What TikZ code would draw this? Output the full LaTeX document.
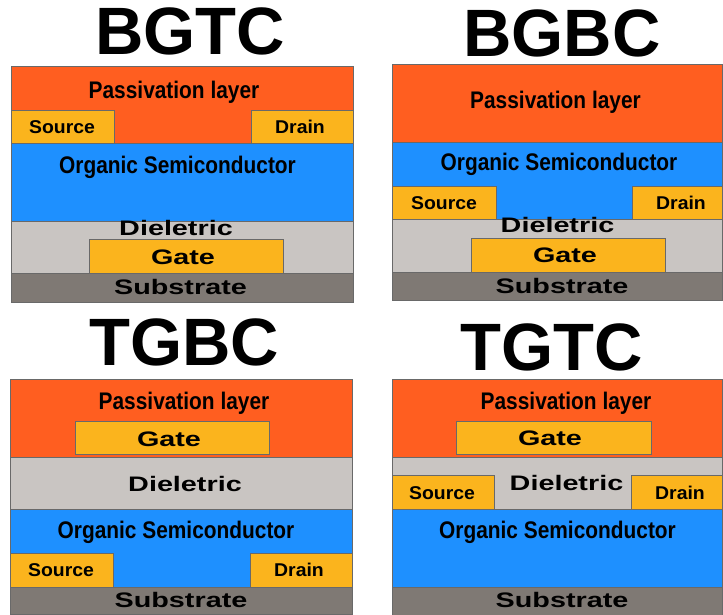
\documentclass[tikz,border=0pt]{standalone}
\usepackage{fontspec}
\setmainfont{Liberation Sans}
\definecolor{pass}{RGB}{255,94,32}
\definecolor{gold}{RGB}{251,180,29}
\definecolor{osc}{RGB}{30,144,255}
\definecolor{diel}{RGB}{201,197,194}
\definecolor{subs}{RGB}{127,121,116}
\definecolor{edge}{RGB}{105,105,105}
\tikzset{
  layer/.style={draw=edge, line width=0.8pt},
  ttl/.style={anchor=base, font=\fontsize{67}{67}\selectfont\bfseries, inner sep=0pt},
  narrowlbl/.style={anchor=base, font=\fontsize{24}{24}\selectfont\bfseries, xscale=0.87, inner sep=0pt},
  widelbl/.style={anchor=base, font=\fontsize{21}{21}\selectfont\bfseries, xscale=1.37, inner sep=0pt},
  sdlbl/.style={anchor=base, font=\fontsize{18.5}{18.5}\selectfont\bfseries, xscale=1.05, inner sep=0pt}
}
\begin{document}
\begin{tikzpicture}[x=1pt,y=-1pt]
\useasboundingbox (0,0) rectangle (723,615);
% ---------- BGTC ----------
\node[ttl] (t1) at (190,55) {BGTC};
\fill[pass] (11,66) rectangle (353,143);
\fill[osc] (11,143) rectangle (353,221);
\fill[diel] (11,221) rectangle (353,273);
\fill[subs] (11,273) rectangle (353,302);
\draw[layer] (11,66) rectangle (353,302);
\draw[layer] (11,143) -- (353,143) (11,221) -- (353,221) (11,273) -- (353,273);
\draw[layer, fill=gold] (11,110) rectangle (114,143);
\draw[layer, fill=gold] (251,110) rectangle (353,143);
\draw[layer, fill=gold] (89,239) rectangle (283,273);
\node[narrowlbl] (p1) at (174,99) {Passivation layer};
\node[sdlbl] (s1) at (62,134) {Source};
\node[sdlbl] (d1) at (300,134) {Drain};
\node[narrowlbl] (o1) at (177.5,174) {Organic Semiconductor};
\node[widelbl] (e1) at (176,235) {Dieletric};
\node[widelbl] (g1) at (183,264) {Gate};
\node[widelbl] (b1) at (180.5,294) {Substrate};
% ---------- BGBC ----------
\node[ttl] (t2) at (562,57) {BGBC};
\fill[pass] (392,64) rectangle (722,142);
\fill[osc] (392,142) rectangle (722,219);
\fill[diel] (392,219) rectangle (722,272);
\fill[subs] (392,272) rectangle (722,300);
\draw[layer] (392,64) rectangle (722,300);
\draw[layer] (392,142) -- (722,142) (392,219) -- (722,219) (392,272) -- (722,272);
\draw[layer, fill=gold] (392,186) rectangle (496,219);
\draw[layer, fill=gold] (632,186) rectangle (722,219);
\draw[layer, fill=gold] (471,238) rectangle (665,272);
\node[narrowlbl] (p2) at (555.5,109) {Passivation layer};
\node[narrowlbl] (o2) at (559,171) {Organic Semiconductor};
\node[sdlbl] (s2) at (444,209) {Source};
\node[sdlbl] (d2) at (681,209) {Drain};
\node[widelbl] (e2) at (557.5,232) {Dieletric};
\node[widelbl] (g2) at (565,262) {Gate};
\node[widelbl] (b2) at (562,293) {Substrate};
% ---------- TGBC ----------
\node[ttl] (t3) at (184,365) {TGBC};
\fill[pass] (10,379) rectangle (352,457);
\fill[diel] (10,457) rectangle (352,509);
\fill[osc] (10,509) rectangle (352,587);
\fill[subs] (10,587) rectangle (352,614);
\draw[layer] (10,379) rectangle (352,614);
\draw[layer] (10,457) -- (352,457) (10,509) -- (352,509) (10,587) -- (352,587);
\draw[layer, fill=gold] (75,421) rectangle (269,454);
\draw[layer, fill=gold] (10,553) rectangle (113,587);
\draw[layer, fill=gold] (250,553) rectangle (352,587);
\node[narrowlbl] (p3) at (184,409) {Passivation layer};
\node[widelbl] (g3) at (169,446) {Gate};
\node[widelbl] (e3) at (185,491) {Dieletric};
\node[narrowlbl] (o3) at (176,538) {Organic Semiconductor};
\node[sdlbl] (s3) at (61,576) {Source};
\node[sdlbl] (d3) at (299,576) {Drain};
\node[widelbl] (b3) at (181,607) {Substrate};
% ---------- TGTC ----------
\node[ttl] (t4) at (552,370) {TGTC};
\fill[pass] (392,379) rectangle (722,457);
\fill[diel] (392,457) rectangle (722,509);
\fill[osc] (392,509) rectangle (722,587);
\fill[subs] (392,587) rectangle (722,615);
\draw[layer] (392,379) rectangle (722,615);
\draw[layer] (392,457) -- (722,457) (392,509) -- (722,509) (392,587) -- (722,587);
\draw[layer, fill=gold] (456,421) rectangle (651,454);
\draw[layer, fill=gold] (392,475) rectangle (494,509);
\draw[layer, fill=gold] (631,475) rectangle (722,509);
\node[narrowlbl] (p4) at (566,409) {Passivation layer};
\node[widelbl] (g4) at (550,445) {Gate};
\node[widelbl] (e4) at (566.5,490) {Dieletric};
\node[sdlbl] (s4) at (442,499) {Source};
\node[sdlbl] (d4) at (680,499) {Drain};
\node[narrowlbl] (o4) at (557.5,538) {Organic Semiconductor};
\node[widelbl] (b4) at (562,607) {Substrate};
\end{tikzpicture}
\end{document}
